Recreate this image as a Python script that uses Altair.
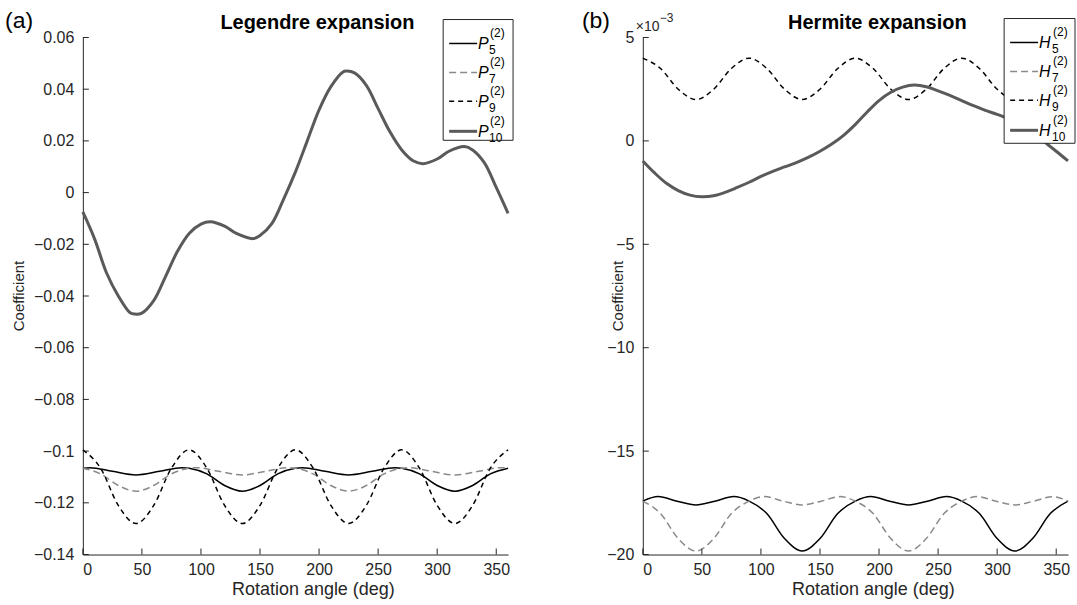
import altair as alt
import pandas as pd

# ---------------- data ----------------
# Panel (a): Legendre expansion
angle_p10 = [0, 10, 20, 30, 40, 44, 50, 60, 70, 80, 90, 100, 108, 120, 130, 144, 150, 160, 170, 180,
             190, 200, 210, 220, 223, 230, 240, 250, 260, 270, 280, 288, 300, 310, 323, 330, 340, 350, 360]
coef_p10 = [-0.0075, -0.018, -0.031, -0.040, -0.0465, -0.047, -0.0466, -0.0418, -0.0325, -0.0228, -0.0158,
            -0.0122, -0.0113, -0.013, -0.0158, -0.0178, -0.0166, -0.012, -0.0025, 0.008,
            0.020, 0.032, 0.041, 0.0466, 0.047, 0.0463, 0.0415, 0.0325, 0.0235, 0.0165, 0.0122, 0.0112,
            0.013, 0.016, 0.0178, 0.0165, 0.0115, 0.002, -0.008]

angle_p5 = [0, 6, 25, 45, 65, 84, 90, 105, 120, 135, 150, 165, 180, 186, 205, 225, 245, 264, 270,
            285, 300, 315, 330, 345, 360]
coef_p5 = [-0.1066, -0.1064, -0.1078, -0.1092, -0.1078, -0.1064, -0.1066, -0.1088, -0.1133, -0.1155,
           -0.1133, -0.1088, -0.1066, -0.1064, -0.1078, -0.1092, -0.1078, -0.1064, -0.1066, -0.1088,
           -0.1133, -0.1155, -0.1133, -0.1088, -0.1066]

angle_p7 = [0, 15, 30, 45, 60, 75, 90, 96, 115, 135, 155, 174, 180, 195, 210, 225, 240, 255, 270,
            276, 295, 315, 335, 354, 360]
coef_p7 = [-0.1066, -0.1088, -0.1133, -0.1155, -0.1133, -0.1088, -0.1066, -0.1064, -0.1078, -0.1092,
           -0.1078, -0.1064, -0.1066, -0.1088, -0.1133, -0.1155, -0.1133, -0.1088, -0.1066, -0.1064,
           -0.1078, -0.1092, -0.1078, -0.1064, -0.1066]

angle_p9 = [0, 15, 30, 45, 60, 75, 90, 105, 120, 135, 150, 165, 180, 195, 210, 225, 240, 255, 270,
            285, 300, 315, 330, 345, 360]
coef_p9 = [-0.0995, -0.1066, -0.1210, -0.128, -0.1210, -0.1066, -0.0995, -0.1066, -0.1210, -0.128,
           -0.1210, -0.1066, -0.0995, -0.1066, -0.1210, -0.128, -0.1210, -0.1066, -0.0995, -0.1066,
           -0.1210, -0.128, -0.1210, -0.1066, -0.0995]

# Panel (b): Hermite expansion (values in units of 1e-3)
angle_h10 = [0, 10, 20, 30, 40, 50, 60, 70, 80, 90, 100, 110, 120, 130, 140, 150, 160, 170, 180,
             190, 200, 210, 220, 230, 240, 250, 260, 270, 280, 290, 300, 310, 320, 330, 340, 350, 360]
coef_h10 = [-0.97, -1.55, -2.05, -2.4, -2.62, -2.7, -2.65, -2.48, -2.25, -2.0, -1.72, -1.47, -1.26,
            -1.05, -0.8, -0.5, -0.15, 0.27, 0.8, 1.4, 1.95, 2.35, 2.6, 2.7, 2.62, 2.42, 2.2, 1.95,
            1.7, 1.48, 1.28, 1.05, 0.75, 0.4, -0.05, -0.5, -0.97]

angle_h5 = [0, 13, 29, 45, 61, 77, 90, 105, 120, 135, 150, 165, 180, 193, 209, 225, 241, 257, 270,
            285, 300, 315, 330, 345, 360]
coef_h5 = [-17.42, -17.2, -17.42, -17.6, -17.42, -17.2, -17.42, -18.02, -19.23, -19.83, -19.23, -18.02,
           -17.42, -17.2, -17.42, -17.6, -17.42, -17.2, -17.42, -18.02, -19.23, -19.83, -19.23, -18.02,
           -17.42]

angle_h7 = [0, 15, 30, 45, 60, 75, 90, 103, 119, 135, 151, 167, 180, 195, 210, 225, 240, 255, 270,
            283, 299, 315, 331, 347, 360]
coef_h7 = [-17.42, -18.02, -19.23, -19.83, -19.23, -18.02, -17.42, -17.2, -17.42, -17.6, -17.42, -17.2,
           -17.42, -18.02, -19.23, -19.83, -19.23, -18.02, -17.42, -17.2, -17.42, -17.6, -17.42, -17.2,
           -17.42]

angle_h9 = [0, 15, 30, 45, 60, 75, 90, 105, 120, 135, 150, 165, 180, 195, 210, 225, 240, 255, 270,
            285, 300, 315, 330, 345, 360]
coef_h9 = [4.0, 3.5, 2.5, 2.0, 2.5, 3.5, 4.0, 3.5, 2.5, 2.0, 2.5, 3.5, 4.0, 3.5, 2.5, 2.0, 2.5, 3.5,
           4.0, 3.5, 2.5, 2.0, 2.5, 3.5, 4.0]

x_ticks = [0, 50, 100, 150, 200, 250, 300, 350]
y_ticks_a = [-0.14, -0.12, -0.1, -0.08, -0.06, -0.04, -0.02, 0, 0.02, 0.04, 0.06]
y_ticks_b = [-20, -15, -10, -5, 0, 5]

# ---------------- styling ----------------
FONT = "Liberation Sans"
INK = "#262626"
BLACK = "#000000"
GRAY = "#8a8a8a"
THICK = "#5a5a5a"
W, H = 426, 518

one = pd.DataFrame({"d": [0]})


def txt(s, x, y, size, weight="normal", style="normal", align="left", baseline="alphabetic",
        angle=None, color=INK):
    kw = dict(text=s, fontSize=size, fontWeight=weight, fontStyle=style, align=align,
              baseline=baseline, color=color, font=FONT)
    if angle is not None:
        kw["angle"] = angle
    return alt.Chart(one).mark_text(**kw).encode(x=alt.value(x), y=alt.value(y))


def panel(series, ydom, yticks, yfmt, title, tag, letter, tag_dx, ylab_dx, box, extra=None):
    xs = alt.Scale(domain=[0, 360], nice=False, zero=False)
    ys = alt.Scale(domain=ydom, nice=False, zero=False)
    xaxis = alt.Axis(values=x_ticks, format="d", ticks=False, grid=False, title=None,
                     domainColor=INK, domainWidth=1, labelFontSize=16, labelColor=INK,
                     labelFont=FONT, labelPadding=7)
    yaxis = alt.Axis(values=yticks, format=yfmt, ticks=False, grid=False, title=None,
                     domainColor=INK, domainWidth=1, labelFontSize=16, labelColor=INK,
                     labelFont=FONT, labelPadding=9)
    X = alt.X("angle:Q", scale=xs, axis=xaxis)
    Y = alt.Y("value:Q", scale=ys, axis=yaxis)
    layers = []
    for (ang, val, color, dash, width, sub, interp) in series:
        df = pd.DataFrame({"angle": ang, "value": val})
        mk = dict(color=color, strokeWidth=width, interpolate=interp)
        if dash:
            mk["strokeDash"] = dash
        layers.append(alt.Chart(df).mark_line(**mk).encode(x=X, y=Y))
    # inward ticks
    layers.append(alt.Chart(pd.DataFrame({"value": yticks})).mark_rule(color=INK, strokeWidth=1).encode(
        y=Y, x=alt.value(0), x2=alt.value(6)))
    layers.append(alt.Chart(pd.DataFrame({"angle": x_ticks})).mark_rule(color=INK, strokeWidth=1).encode(
        x=X, y=alt.value(H), y2=alt.value(H - 6)))
    # legend box
    bx0, bx1, by0, by1 = box
    layers.append(alt.Chart(one).mark_rect(fill="white", stroke=INK, strokeWidth=1).encode(
        x=alt.value(bx0), x2=alt.value(bx1), y=alt.value(by0), y2=alt.value(by1)))
    rows = [24, 53, 82, 112]
    dx = 2 if letter == "H" else 0
    for i, (ang, val, color, dash, width, sub, interp) in enumerate(series):
        ry = by0 + rows[i]
        mk = dict(color=color, strokeWidth=width)
        if dash:
            mk["strokeDash"] = dash
        layers.append(alt.Chart(one).mark_rule(**mk).encode(
            x=alt.value(bx0 + 6), x2=alt.value(bx0 + 34), y=alt.value(ry)))
        layers.append(txt(letter, bx0 + 35, ry + 6, 16, style="italic", color=BLACK))
        layers.append(txt(sub, bx0 + 46 + dx, ry + 11, 12, color=BLACK))
        layers.append(txt("(2)", bx0 + 47 + dx, ry - 6, 12, color=BLACK))
    # titles / labels
    layers.append(txt(title, W / 2 + 22, -9, 20, weight="bold", align="center", color=BLACK))
    layers.append(txt(tag, tag_dx, -10, 23, color=BLACK))
    layers.append(txt("Coefficient", ylab_dx, H / 2, 15, align="center", baseline="middle", angle=270))
    layers.append(txt("Rotation angle (deg)", W / 2 + 18, H + 41, 18, align="center"))
    if extra:
        layers.extend(extra)
    return alt.layer(*layers).properties(width=W, height=H)


series_a = [
    (angle_p5, coef_p5, BLACK, None, 1.5, "5", "monotone"),
    (angle_p7, coef_p7, GRAY, [7, 4], 1.5, "7", "monotone"),
    (angle_p9, coef_p9, BLACK, [5, 4], 1.5, "9", "monotone"),
    (angle_p10, coef_p10, THICK, None, 3, "10", "catmull-rom"),
]
series_b = [
    (angle_h5, coef_h5, BLACK, None, 1.5, "5", "monotone"),
    (angle_h7, coef_h7, GRAY, [7, 4], 1.5, "7", "monotone"),
    (angle_h9, coef_h9, BLACK, [5, 4], 1.5, "9", "monotone"),
    (angle_h10, coef_h10, THICK, None, 3, "10", "catmull-rom"),
]

exp_b = [
    txt("×10", -7, -7, 14),
    txt("−3", 17, -16, 12),
]

pa = panel(series_a, [-0.14, 0.06], y_ticks_a, "~g", "Legendre expansion", "(a)", "P", -78, -64,
           (W - 65, W + 5, -18, 103))
pb = panel(series_b, [-20, 5], y_ticks_b, "d", "Hermite expansion", "(b)", "H", -61, -25,
           (W - 64, W + 7, -19, 106), exp_b)

chart = alt.hconcat(pa, pb, spacing=68).properties(
    padding={"left": 5, "top": 9, "right": 1, "bottom": 3}
).configure_view(stroke=None)

chart.save("out.html", embed_options={"renderer": "svg", "actions": False})
